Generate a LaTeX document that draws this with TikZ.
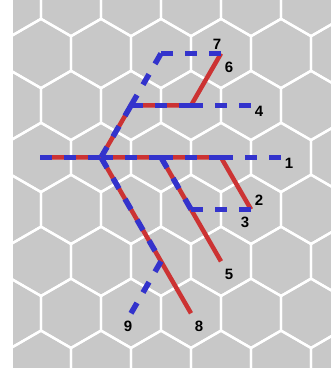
\documentclass[tikz,border=0pt]{standalone}
\usepackage{fontspec}
\setmainfont{Liberation Sans}
\definecolor{hexgray}{RGB}{200,200,200}
\definecolor{treeblue}{RGB}{51,51,204}
\definecolor{treered}{RGB}{204,51,51}
\usetikzlibrary{positioning}
\tikzset{
  hexedge/.style={draw=white, line width=2.4pt, line join=round},
  redtree/.style={draw=treered, line width=4.5pt},
  bluetree/.style={draw=treeblue, line width=5.5pt, dash pattern=on 12pt off 12pt},
  leaflabel/.style={font=\fontsize{15}{15}\selectfont\bfseries, inner sep=0pt}
}

\begin{document}
\begin{tikzpicture}[x=1pt, y=-1pt]
  \useasboundingbox (0,0) rectangle (331,371);
  \fill[hexgray] (12.5,0) rectangle (331,368);

  % hexagonal board
  \begin{scope}
    \clip (12.5,0) rectangle (331,368);
    \foreach \r in {0,...,7}{
      \foreach \c in {-1,...,5}{
        \pgfmathsetmacro\cx{71-30*mod(\r,2)+60*\c}
        \pgfmathsetmacro\cy{1.54+51.96*\r}
        \draw[hexedge] (\cx,\cy-34.64) -- ++(30,17.32) -- ++(0,34.64)
          -- ++(-30,17.32) -- ++(-30,-17.32) -- ++(0,-34.64) -- cycle;
      }
    }
  \end{scope}

  % branch points and leaves
  \coordinate (root) at (40,157.42);
  \coordinate (a) at (101,157.42);
  \coordinate (b) at (131,105.46);
  \coordinate (c) at (161,53.5);
  \coordinate (d) at (191,105.46);
  \coordinate (e) at (161,157.42);
  \coordinate (f) at (221,157.42);
  \coordinate (g) at (191,209.38);
  \coordinate (h) at (161,261.34);
  \coordinate (t1) at (281,157.42);
  \coordinate (t23) at (251,209.38);
  \coordinate (t4) at (251,105.46);
  \coordinate (t5) at (221,261.34);
  \coordinate (t67) at (221,53.5);
  \coordinate (t8) at (191,313.3);
  \coordinate (t9) at (131,313.3);

  % red tree
  \draw[redtree] (root) -- (a) -- (e) -- (f) -- (t23);
  \draw[redtree] (a) -- (b) -- (d) -- (t67);
  \draw[redtree] (e) -- (g) -- (t5);
  \draw[redtree] (a) -- (h) -- (t8);

  % blue tree
  \foreach \u/\v in {root/a, a/b, b/c, c/t67, b/d, d/t4, a/e, e/f, f/t1,
                     e/g, g/t23, a/h, h/t9}
    \draw[bluetree] (\u) -- (\v);

  \node[leaflabel] (l1) at (289,163) {1};
  \node[leaflabel] (l2) at (259,200) {2};
  \node[leaflabel] (l3) at (245,222) {3};
  \node[leaflabel] (l4) at (259,111) {4};
  \node[leaflabel] (l5) at (229,274) {5};
  \node[leaflabel] (l6) at (229,67) {6};
  \node[leaflabel] (l7) at (217,44) {7};
  \node[leaflabel] (l8) at (199,326) {8};
  \node[leaflabel] (l9) at (128,326) {9};
\end{tikzpicture}
\end{document}
